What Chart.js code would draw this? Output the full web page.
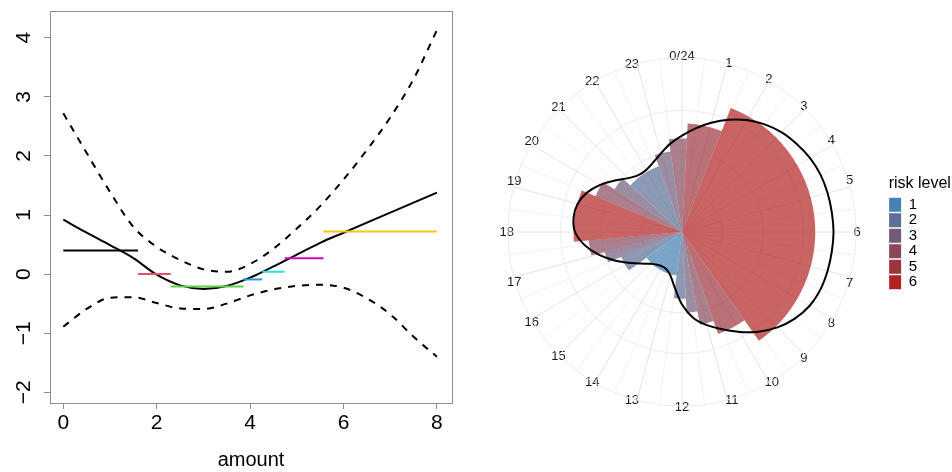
<!DOCTYPE html>
<html>
<head>
<meta charset="utf-8">
<script src="https://cdn.jsdelivr.net/npm/chart.js@4/dist/chart.umd.min.js"></script>
<style>
  html, body { margin: 0; padding: 0; background: #fff; }
  #lienzo { position: relative; width: 952px; height: 472px; }
  #panelAjuste { position: absolute; left: 0; top: 0; width: 470px; height: 472px; }
  #panelRosa { position: absolute; left: 476px; top: 0; width: 476px; height: 472px; }
</style>
</head>
<body>
<div id="lienzo">
  <div id="panelAjuste"><canvas id="ajuste"></canvas></div>
  <div id="panelRosa"><canvas id="rosa"></canvas></div>
</div>
<script>
// Datos del panel izquierdo (curva ajustada y banda de confianza)
const xAjuste = [0, 0.5, 1, 1.5, 2, 2.5, 3, 3.5, 4, 4.5, 5, 5.5, 6, 6.5, 7, 7.5, 8];
const yAjuste = [0.92, 0.70, 0.49, 0.27, -0.01, -0.19, -0.25, -0.20, -0.06, 0.13, 0.33, 0.53, 0.70, 0.87, 1.04, 1.21, 1.38];
const ySuperior = [2.72, 2.05, 1.39, 0.80, 0.46, 0.24, 0.08, 0.04, 0.17, 0.43, 0.77, 1.15, 1.60, 2.10, 2.65, 3.30, 4.13];
const yInferior = [-0.89, -0.59, -0.40, -0.39, -0.49, -0.58, -0.59, -0.50, -0.36, -0.26, -0.20, -0.18, -0.23, -0.41, -0.68, -1.06, -1.40];

// Tramos horizontales (medias por intervalo)
const cortesTramo = [0, 1.6, 2.3, 3.86, 4.26, 4.74, 5.57, 8];
const nivelTramo = [0.40, 0.00, -0.21, -0.09, 0.04, 0.27, 0.72];
const colorTramo = ['#000000', '#DF536B', '#61D04F', '#2297E6', '#28E2E5', '#CD0BBC', '#F5C710'];

const ticksX = [0, 2, 4, 6, 8];
const ticksY = [-2, -1, 0, 1, 2, 3, 4];

// Datos del panel derecho (rosa horaria)
const horas = ['0/24', '1', '2', '3', '4', '5', '6', '7', '8', '9', '10', '11',
               '12', '13', '14', '15', '16', '17', '18', '19', '20', '21', '22', '23'];
const limitesCuna = [0, 0.2, 1.43, 9.65, 10.7, 11.27, 11.78, 12.47, 15.6, 16.52, 17.03, 17.66, 19.5, 20.15, 20.8, 22.7, 23.46, 24];
const radioCuna = [2.31, 2.68, 3.29, 2.67, 2.33, 1.99, 1.65, 1.08, 1.62, 1.97, 2.31, 2.68, 2.31, 1.97, 1.72, 2.01, 2.31];
const nivelCuna = [4, 5, 6, 5, 4, 3, 2, 1, 2, 3, 4, 6, 4, 3, 2, 3, 4];
// curva suavizada, un valor cada media hora empezando en 0h
const radioCurva = [2.38, 2.58, 2.79, 3.00, 3.19, 3.35, 3.48, 3.57, 3.65, 3.70, 3.72, 3.73,
                    3.74, 3.73, 3.72, 3.70, 3.64, 3.51, 3.33, 3.10, 2.85, 2.60, 2.38, 2.14,
                    1.79, 1.38, 1.11, 1.00, 0.98, 1.02, 1.11, 1.28, 1.52, 1.82, 2.14, 2.43,
                    2.64, 2.70, 2.67, 2.54, 2.33, 2.09, 1.88, 1.77, 1.77, 1.86, 2.01, 2.20];
const nivelesRiesgo = [1, 2, 3, 4, 5, 6];
const coloresRiesgo = ['#4682B4', '#5C6F97', '#715C7A', '#87485C', '#9C353F', '#B22222'];

const GRIS = '#8c8c8c';
Chart.defaults.font.family = '"Liberation Sans", Arial, Helvetica, sans-serif';
Chart.defaults.color = '#000';

const signoMenos = v => (v < 0 ? '\u2212' + Math.abs(v) : String(v));

// ---------- panel izquierdo ----------
const puntos = ys => xAjuste.map((x, i) => ({ x: x, y: ys[i] }));

const datasetsAjuste = nivelTramo.map((y, i) => ({
    data: [{ x: cortesTramo[i], y: y }, { x: cortesTramo[i + 1], y: y }],
    borderColor: colorTramo[i],
    borderWidth: 2
}));
datasetsAjuste.push(
    { data: puntos(yAjuste), borderColor: '#000', borderWidth: 2, cubicInterpolationMode: 'monotone' },
    { data: puntos(ySuperior), borderColor: '#000', borderWidth: 2, borderDash: [7, 7], cubicInterpolationMode: 'monotone' },
    { data: puntos(yInferior), borderColor: '#000', borderWidth: 2, borderDash: [7, 7], cubicInterpolationMode: 'monotone' }
);

new Chart(document.getElementById('ajuste'), {
    type: 'line',
    data: { datasets: datasetsAjuste },
    options: {
        responsive: true,
        maintainAspectRatio: false,
        animation: false,
        events: [],
        layout: { padding: { top: 11, right: 18, bottom: 0, left: 0 } },
        elements: { point: { radius: 0 } },
        plugins: { legend: { display: false }, tooltip: { enabled: false } },
        scales: {
            x: {
                type: 'linear',
                min: -0.285,
                max: 8.323,
                afterBuildTicks: s => { s.ticks = ticksX.map(v => ({ value: v })); },
                afterFit: s => { s.height = 69; s.paddingLeft = 0; s.paddingRight = 0; },
                grid: { drawOnChartArea: false, tickLength: 6, color: GRIS },
                border: { color: GRIS },
                ticks: { font: { size: 21 }, padding: 2, maxRotation: 0 },
                title: { display: true, text: 'amount', font: { size: 20 }, padding: 0 }
            },
            y: {
                type: 'linear',
                min: -2.181,
                max: 4.452,
                afterBuildTicks: s => { s.ticks = ticksY.map(v => ({ value: v })); },
                afterFit: s => { s.width = 50; s.paddingTop = 0; s.paddingBottom = 0; },
                grid: { drawOnChartArea: false, tickLength: 6, color: GRIS },
                border: { color: GRIS },
                ticks: {
                    font: { size: 21 },
                    minRotation: 90,
                    maxRotation: 90,
                    crossAlign: 'center',
                    padding: 8,
                    callback: v => signoMenos(v)
                }
            },
            // ejes sin marcas para cerrar la caja
            arriba: {
                type: 'linear', position: 'top', min: 0, max: 1,
                ticks: { display: false },
                grid: { drawOnChartArea: false, drawTicks: false },
                border: { color: GRIS },
                afterFit: s => { s.height = 0; }
            },
            derecha: {
                type: 'linear', position: 'right', min: 0, max: 1,
                ticks: { display: false },
                grid: { drawOnChartArea: false, drawTicks: false },
                border: { color: GRIS },
                afterFit: s => { s.width = 0; s.paddingTop = 0; s.paddingBottom = 0; }
            }
        }
    }
});

// ---------- panel derecho ----------
const etiquetasRosa = [];
horas.forEach(h => { etiquetasRosa.push(h, ''); });

const anchoCuna = radioCuna.map((r, i) => (limitesCuna[i + 1] - limitesCuna[i]) * 15);
const colorCuna = nivelCuna.map(n => coloresRiesgo[n - 1] + 'B3');

new Chart(document.getElementById('rosa'), {
    type: 'polarArea',
    data: {
        labels: etiquetasRosa,
        datasets: [
            {
                type: 'radar',
                data: radioCurva,
                borderColor: '#000',
                borderWidth: 2,
                pointRadius: 0,
                fill: false,
                tension: 0.3
            },
            {
                data: radioCuna,
                angle: anchoCuna,
                backgroundColor: colorCuna,
                borderWidth: 0
            }
        ]
    },
    options: {
        responsive: true,
        maintainAspectRatio: false,
        animation: false,
        events: [],
        layout: { padding: { top: 50, bottom: 56, left: 0, right: 0 } },
        plugins: {
            tooltip: { enabled: false },
            legend: {
                position: 'right',
                align: 'center',
                title: {
                    display: true,
                    text: 'risk level',
                    position: 'start',
                    font: { size: 16 },
                    padding: { top: 0, bottom: 2 }
                },
                labels: {
                    boxWidth: 12,
                    boxHeight: 14,
                    padding: 0.5,
                    font: { size: 15 },
                    // espacios de cifra para que la caja de la leyenda quepa el título
                    generateLabels: () => nivelesRiesgo.map((n, i) => ({
                        text: String(n) + '\u2007\u2007\u2007',
                        fillStyle: coloresRiesgo[i],
                        strokeStyle: coloresRiesgo[i],
                        lineWidth: 0,
                        hidden: false,
                        index: i
                    }))
                }
            }
        },
        scales: {
            r: {
                min: 0,
                max: 4.3,
                startAngle: 0,
                ticks: { display: false, stepSize: 1 },
                grid: {
                    circular: true,
                    lineWidth: 1,
                    color: c => (c.tick && c.tick.value === 4 ? 'rgba(0,0,0,0)' : '#ebebeb')
                },
                angleLines: {
                    display: true,
                    lineWidth: 1,
                    color: c => (c.index % 2 === 0 ? '#e4e4e4' : '#f2f2f2')
                },
                pointLabels: {
                    display: true,
                    color: '#1a1a1a',
                    font: { size: 13 },
                    // centra cada rótulo sobre el círculo exterior
                    padding: c => {
                        const ang = c.index / etiquetasRosa.length * 2 * Math.PI;
                        const ancho = String(c.label).length * 7.2;
                        return 1 - (ancho / 2) * Math.abs(Math.sin(ang)) - 7.8 * Math.abs(Math.cos(ang));
                    }
                }
            }
        }
    }
});
</script>
</body>
</html>
